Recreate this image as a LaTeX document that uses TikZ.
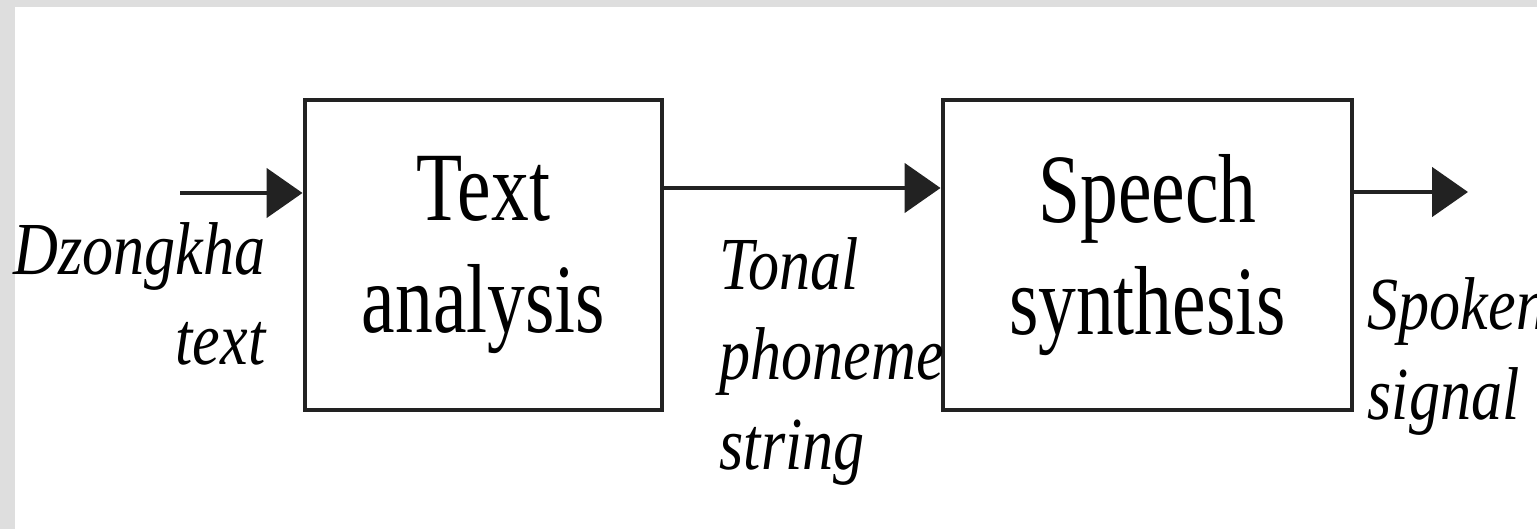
\documentclass[tikz,border=0pt]{standalone}
\usepackage{fontspec}
\usepackage{tikz}
\usetikzlibrary{arrows.meta}
\usetikzlibrary{positioning}
\newfontfamily\boxfont[FakeStretch=0.77]{Liberation Serif}
\newfontfamily\lblfont[FakeStretch=0.83]{Liberation Serif}
\definecolor{framegray}{HTML}{DEDEDE}
\definecolor{inkgray}{HTML}{222222}
\tikzset{procbox/.style={shape=rectangle, draw=inkgray, line width=1.4pt, inner sep=0pt,
		font={\boxfont\fontsize{27.9pt}{31.9pt}\selectfont}, align=center},
	flow/.style={draw=inkgray, line width=1.4pt, -{Triangle[length=3.6mm,width=4.9mm]}},
	sig/.style={inner sep=0pt, font={\lblfont\itshape\fontsize{21.3pt}{25.6pt}\selectfont}}}

\begin{document}
\begin{tikzpicture}
		\useasboundingbox (0,0) rectangle (15.37,-5.29);
		\fill[framegray] (0,0) rectangle (15.37,-5.29);
		\fill[white] (0.15,-0.07) rectangle (15.37,-5.29);
		\node[procbox, minimum width=3.57cm, minimum height=3.10cm] (ana) at (4.835,-2.55) {Text\\analysis};
		\node[procbox, minimum width=4.09cm, minimum height=3.10cm] (syn) at (11.475,-2.55) {Speech\\synthesis};
		\coordinate (src) at (1.80,-1.93);
		\coordinate (snk) at (14.68,-1.92);
		\node[sig, align=right, anchor=north east] (dz) at (2.66,-2.22) {Dzongkha\\text};
		\node[sig, align=left, anchor=north west] (ton) at (7.19,-2.37) {Tonal\\phoneme\\string};
		\node[sig, align=left, anchor=north west] (spk) at (13.67,-2.77) {Spoken\\signal};
		\draw[flow] (src) -- (src -| ana.west);
		\draw[flow] ([yshift=6.7mm]ana.east) -- ([yshift=6.7mm]syn.west);
		\draw[flow] (snk -| syn.east) -- (snk);
	\end{tikzpicture}
\end{document}
